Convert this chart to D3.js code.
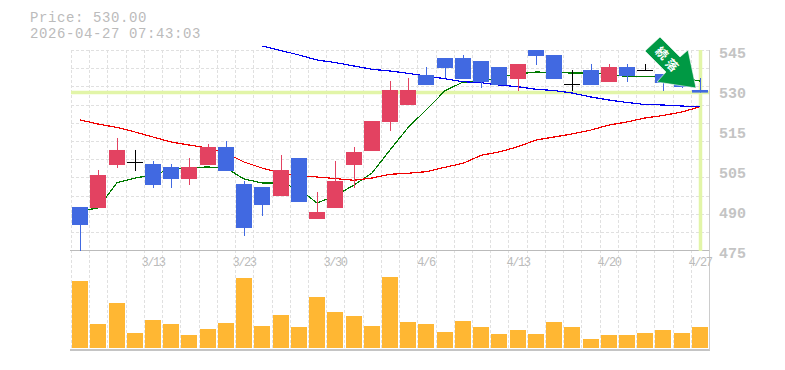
<!DOCTYPE html>
<html><head><meta charset="utf-8">
<style>html,body{margin:0;padding:0;background:#fff}svg{display:block}text{font-family:"Liberation Mono",monospace;fill:#bbb}</style>
<script src="https://cdn.jsdelivr.net/npm/d3@7"></script></head><body><svg id="c" width="785" height="370"></svg>
<script>
const headerLines=["Price: 530.00","2026-04-27 07:43:03"];
const opens=[491.67,491.33,505.67,506.83,506,505,501,505.67,511.67,499.33,498.33,495.33,508,487.67,491.33,505.67,510.33,520,525.67,535.67,541.33,541.33,540.33,538.33,534.33,544,542.33,532.6,537.33,533.33,538.33,537.33,536,536,530.67];
const closes=[485.67,502.33,510.67,506.83,499,501,505,511.67,503.67,484.67,492.33,504,493.33,490,500.33,510,520.33,530.67,530.67,532.33,538,534.33,533.33,532.33,539.33,542,534.33,532.6,532.33,538.33,535.33,537.33,533,531.67,529.8];
const highs=[491.67,504,514.67,510.67,507,506,508,512.67,513.67,500.33,498.33,509,508,496.67,507,511.67,520.33,533.67,534.67,538.33,541.33,542.33,540.33,538.33,539.33,544,542.33,537.33,539.33,539.33,539.33,539.33,536,536,534.67];
const lows=[477,491.33,504.67,503.67,498,498,499,505.67,503.67,482,488.67,495.33,493.33,487.67,491.33,498,510.33,517,525.67,532.33,534.67,534.33,531.33,532.33,530.33,539,534.33,530.33,532.33,533.33,533.33,537.33,530.33,531.33,529.8];
const volumes=[67,24,45,15,28,24,13,19,25,70,22,33,21,51,36,32,22,71,26,24,16,27,21,14,18,14,26,21,9,13,13,15,18,15,21];
const maShort=[490.33,491.33,499.77,501.33,502.33,504.33,504.83,505,504.67,501,499.67,499.67,497.67,493,495.4,499,503,510.67,518.1,524,530.4,533.33,533.33,535,536,536.67,536.5,536.33,536.33,536,535.1,535.2,535.33,534.67,533.67];
const maMid=[520.67,519.33,518.17,516.67,515,513.33,512.33,511.33,509.67,506.67,504.67,503,502,501.67,501.17,500.57,501.33,502.57,502.9,503.43,504.9,506.23,508.9,510,511.77,514,515,516,517.33,519,520,521.33,522.17,523.33,525.1];
const maLong=[null,null,null,null,null,null,null,null,null,null,545.33,543.83,542.33,540.67,539.83,538.67,537.57,537,536.23,535.33,534.43,533.43,533.1,532.33,531.77,530.9,530.5,529.67,528.33,527.33,526.5,525.83,525.67,525.33,525.1];
const priceTickLabels=["545","530","515","505","490","475"];
const dateTickIndex=[4,9,14,19,24,29,34];
const dateTickLabels=["3/13","3/23","3/30","4/6","4/13","4/20","4/27"];
const currentPrice=530;
const arrowLabel="続落";

const svg=d3.select("#c");
const L=71,R=709,T=50,B=251,VB=350;
const n=opens.length;
const edge=d3.scaleLinear().domain([0,n]).range([L,R]);
const cx=i=>Math.round(edge(i+0.5));
const y=d3.scaleLinear().domain([477,544]).range([B,T]);
const v=d3.scaleLinear().domain([0,100]).range([348,248]);
const tickY=d3.scalePoint().domain(priceTickLabels).range([T,B-1]);
const gridC="#e0e0e0";
const g=svg.append("g");
// grid
d3.range(n).forEach(i=>{g.append("line").attr("x1",Math.round(edge(i))+.5).attr("x2",Math.round(edge(i))+.5).attr("y1",T).attr("y2",VB)
  .attr("stroke",gridC).attr("stroke-width",1).attr("stroke-dasharray","3,2");});
d3.range(0,12).forEach(k=>{const yy=Math.round(T+k*18.2)+.5;g.append("line").attr("x1",L).attr("x2",R).attr("y1",yy).attr("y2",yy)
  .attr("stroke",gridC).attr("stroke-dasharray","3,2");});
// axes lines
g.append("line").attr("x1",L-1).attr("x2",R+1).attr("y1",B-.5).attr("y2",B-.5).attr("stroke","#bbb");
g.append("line").attr("x1",L-1).attr("x2",R+1).attr("y1",VB).attr("y2",VB).attr("stroke","#c4c4c4").attr("stroke-width",2);
g.append("line").attr("x1",R+.5).attr("x2",R+.5).attr("y1",T).attr("y2",VB).attr("stroke","#ccc");
// current price + last-date guide
g.append("line").attr("x1",L).attr("x2",R).attr("y1",y(currentPrice)+.5).attr("y2",y(currentPrice)+.5).attr("stroke","#e2f5a8").attr("stroke-width",3.5);
g.append("line").attr("x1",cx(n-1)+.5).attr("x2",cx(n-1)+.5).attr("y1",T).attr("y2",B).attr("stroke","#e2f5a8").attr("stroke-width",3.5);
// volume
g.selectAll(".v").data(volumes).join("rect").attr("x",(d,i)=>cx(i)-8).attr("width",16).attr("y",d=>v(d)).attr("height",d=>v(0)-v(d)).attr("fill","#ffb733");
// MA lines
const line=d3.line().defined(d=>d!==null).x((d,i)=>cx(i)).y(d=>y(d));
[[maShort,"#007a00"],[maMid,"#f00000"],[maLong,"#0000f0"]].forEach(([s,c])=>{
  g.append("path").attr("d",line(s)).attr("fill","none").attr("stroke",c).attr("stroke-width",1.2).attr("shape-rendering","crispEdges");
});
// candles
const up="#e34261",down="#4169e1";
opens.forEach((o,i)=>{
  const c=closes[i],doji=Math.abs(o-c)<0.01,col=doji?"#000":(c>o?up:down),x=cx(i);
  g.append("line").attr("x1",x+.5).attr("x2",x+.5).attr("y1",y(highs[i])).attr("y2",y(lows[i])).attr("stroke",col).attr("stroke-width",1);
  if(doji) g.append("line").attr("x1",x-8).attr("x2",x+8).attr("y1",Math.round(y(o))+.5).attr("y2",Math.round(y(o))+.5).attr("stroke",col);
  else g.append("rect").attr("x",x-8).attr("width",16).attr("y",y(Math.max(o,c))).attr("height",y(Math.min(o,c))-y(Math.max(o,c))).attr("fill",col);
});
// labels
svg.selectAll(".h").data(headerLines).join("text").attr("x",30).attr("y",(d,i)=>22+i*16).attr("font-size",14).attr("letter-spacing",.6).text(d=>d);
svg.selectAll(".p").data(priceTickLabels).join("text").attr("x",719).attr("y",d=>tickY(d)+8).attr("font-size",15).attr("font-weight","bold").style("fill","#c4c4c4").text(d=>d);
svg.selectAll(".d").data(dateTickIndex).join("text").attr("x",d=>cx(d)).attr("y",266).attr("text-anchor","middle").attr("font-size",12).attr("letter-spacing",-1.4).text((d,i)=>dateTickLabels[i]);
// arrow annotation
const a=svg.append("g");
a.append("polygon").attr("points","645,51 660,37 680,57 688,50 696,88 657,82 666,72").attr("fill","#009944").attr("stroke","#fff").attr("stroke-opacity",.6).attr("stroke-width",1);
[[662,53],[672,65]].forEach((p,i)=>{
  a.append("text").attr("transform",`translate(${p[0]},${p[1]}) rotate(45)`).attr("text-anchor","middle").attr("dy",4.5).attr("font-size",12).attr("font-weight","bold").style("fill","#fff").style("font-family","'Noto Sans CJK JP'").text(arrowLabel[i]);
});
</script></body></html>
